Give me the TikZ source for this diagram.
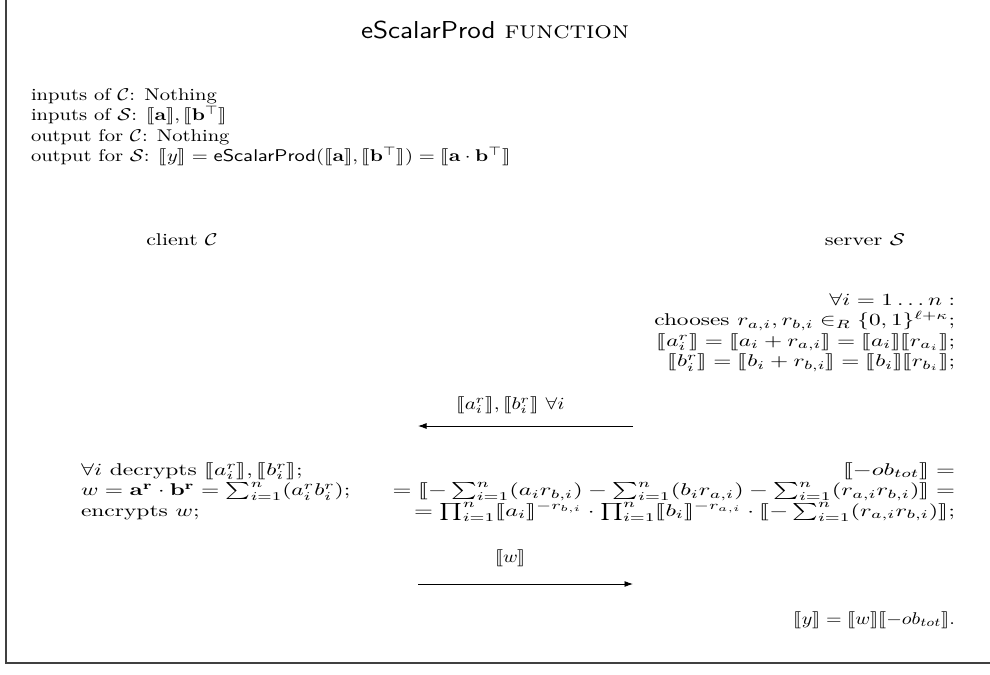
\documentclass[tikz,border=0pt]{standalone}
\usepackage{amsmath,amssymb,stmaryrd,graphicx}
\usetikzlibrary{arrows.meta}
\newcommand\sx[2]{\scalebox{#1}[1]{#2}}
\begin{document}
\begin{tikzpicture}[x=0.588pt,y=-0.588pt,
  txt/.style={inner sep=0pt,outer sep=0pt},
  msg/.style={-{Latex[length=5pt,width=3.5pt]},line width=0.5pt},
  frameline/.style={line width=0.8pt,draw=black!75}]
\useasboundingbox (0,0) rectangle (990,674);
\draw[frameline] (6,0) -- (6,663) -- (990,663);
\node[txt] (title) at (495,30) {\sx{1.13}{\Large\textsf{eScalarProd} \textsc{function}}};
\node[txt,anchor=north west] (io) at (31,86) {\sx{1.21}{\begin{tabular}{@{}l@{}}inputs of $\mathcal{C}$: Nothing\\
inputs of $\mathcal{S}$: $\llbracket\mathbf{a}\rrbracket, \llbracket\mathbf{b}^\top\rrbracket$\\
output for $\mathcal{C}$: Nothing\\
output for $\mathcal{S}$: $\llbracket y\rrbracket = \mathsf{eScalarProd}(\llbracket\mathbf{a}\rrbracket, \llbracket\mathbf{b}^\top\rrbracket) = \llbracket\mathbf{a}\cdot\mathbf{b}^\top\rrbracket$\end{tabular}}};
\node[txt] (client) at (182,240) {\sx{1.28}{client $\mathcal{C}$}};
\node[txt] (server) at (865,240) {\sx{1.32}{server $\mathcal{S}$}};
\node[txt,anchor=north east] (srv1) at (955,291) {\sx{1.37}{\begin{tabular}{@{}r@{}}$\forall i = 1\ldots n:$\\
chooses $r_{a,i}, r_{b,i} \in_R \{0,1\}^{\ell+\kappa}$;\\
$\llbracket a_i^r\rrbracket = \llbracket a_i + r_{a,i}\rrbracket = \llbracket a_i\rrbracket\llbracket r_{a_i}\rrbracket$;\\
$\llbracket b_i^r\rrbracket = \llbracket b_i + r_{b,i}\rrbracket = \llbracket b_i\rrbracket\llbracket r_{b_i}\rrbracket$;\end{tabular}}};
\coordinate (m1s) at (633,426);
\coordinate (m1e) at (418,426);
\draw[msg] (m1s) -- node[pos=0.57,yshift=12.3pt,txt] (m1l) {\sx{1.24}{$\llbracket a_i^r\rrbracket, \llbracket b_i^r\rrbracket\ \forall i$}} (m1e);
\node[txt,anchor=north west] (cli2) at (81,461) {\sx{1.38}{\begin{tabular}{@{}l@{}}$\forall i$ decrypts $\llbracket a_i^r\rrbracket, \llbracket b_i^r\rrbracket$;\\
$w = \mathbf{a}^\mathbf{r}\cdot\mathbf{b}^\mathbf{r} = \sum_{i=1}^n (a_i^r b_i^r)$;\\
encrypts $w$;\end{tabular}}};
\node[txt,anchor=north east] (srv2) at (955,461) {\sx{1.43}{\begin{tabular}{@{}r@{}}$\llbracket -ob_{tot}\rrbracket =$\\
$= \llbracket -\sum_{i=1}^n (a_i r_{b,i}) - \sum_{i=1}^n (b_i r_{a,i}) - \sum_{i=1}^n (r_{a,i} r_{b,i})\rrbracket =$\\
$= \prod_{i=1}^n \llbracket a_i\rrbracket^{-r_{b,i}} \cdot \prod_{i=1}^n \llbracket b_i\rrbracket^{-r_{a,i}} \cdot \llbracket -\sum_{i=1}^n (r_{a,i} r_{b,i})\rrbracket$;\end{tabular}}};
\coordinate (m2s) at (418,584);
\coordinate (m2e) at (633,584);
\draw[msg] (m2s) -- node[pos=0.43,yshift=15.3pt,txt] (m2l) {\sx{1.17}{$\llbracket w\rrbracket$}} (m2e);
\node[txt,anchor=east] (final) at (955,620) {\sx{1.18}{$\llbracket y\rrbracket = \llbracket w\rrbracket\llbracket -ob_{tot}\rrbracket$.}};
\end{tikzpicture}
\end{document}
